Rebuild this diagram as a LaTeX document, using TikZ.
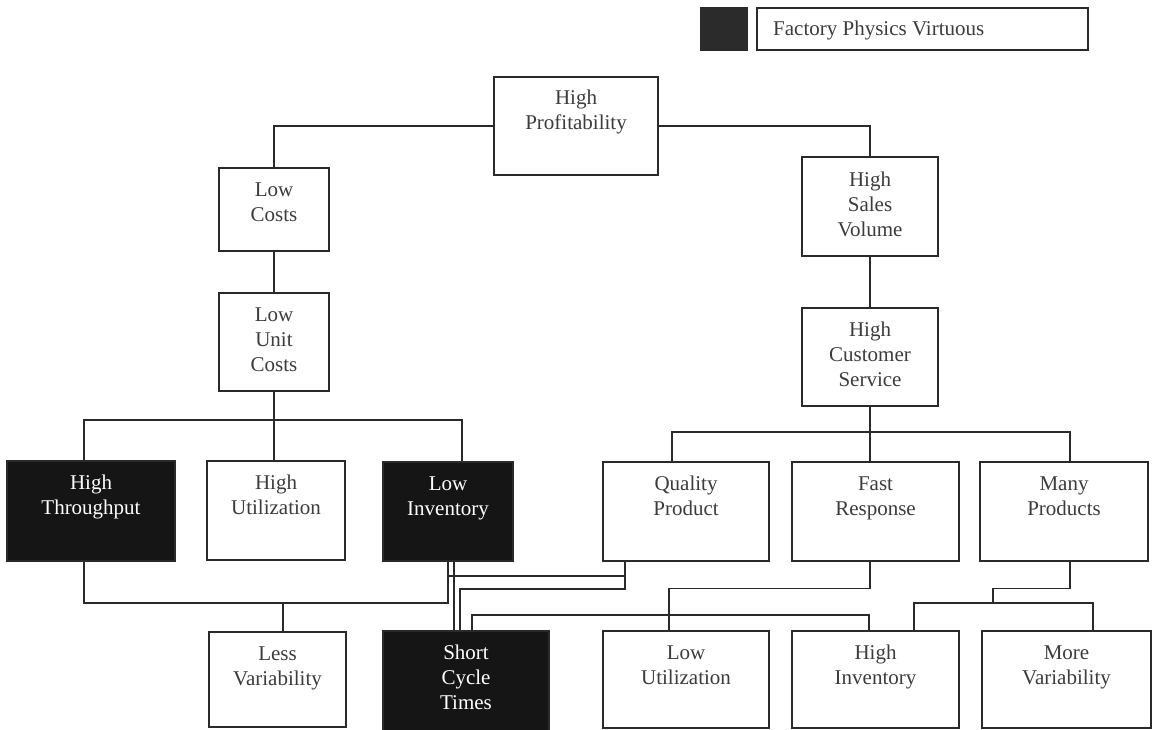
\documentclass[tikz,border=0pt]{standalone}
\usepackage{fontspec}
\setmainfont{Liberation Serif}
\definecolor{ink}{HTML}{2A2A2A}
\definecolor{txtgray}{HTML}{3C3C3C}
\definecolor{dark}{HTML}{151515}
\definecolor{legdark}{HTML}{2B2B2B}
\tikzset{
  base/.style={rectangle, inner sep=0pt, line width=1.3pt, draw=ink},
  wbox/.style={base, fill=white},
  kbox/.style={base, fill=dark},
  wtxt/.style={inner sep=0pt, align=center, text=txtgray, font=\fontsize{21}{25}\selectfont},
  ktxt/.style={inner sep=0pt, align=center, text=white, font=\fontsize{21}{25}\selectfont},
  conn/.style={line width=1.3pt, draw=ink}
}
% name, x1, y1, x2, y2, box style, text style, text, offset of last baseline
\newcommand\bx[9]{%
  \node[#6, minimum width={(#4-#2)*1pt}, minimum height={(#5-#3)*1pt}] (#1) at ({(#2+#4)/2},{(#3+#5)/2}) {};
  \node[#7, anchor=base] (#1t) at ([yshift=-#9pt]#1.north) {#8};
}
\begin{document}
\begin{tikzpicture}[x=1pt,y=-1pt]
\useasboundingbox[fill=white] (0,0) rectangle (1156,730);

% legend
\node[base, fill=legdark, minimum width=46pt, minimum height=42pt] (lgsq) at (724,29) {};
\node[wbox, minimum width=331pt, minimum height=42pt] (lgbox) at (922.5,29) {};
\node[wtxt, anchor=base west] (lgt) at (773,36) {Factory Physics Virtuous};

% boxes
\bx{hp}{494}{77}{658}{175}{wbox}{wtxt}{High\\Profitability}{53}
\bx{lc}{219}{168}{329}{251}{wbox}{wtxt}{Low\\Costs}{54}
\bx{luc}{219}{293}{329}{391}{wbox}{wtxt}{Low\\Unit\\Costs}{79}
\bx{hsv}{802}{157}{938}{256}{wbox}{wtxt}{High\\Sales\\Volume}{80}
\bx{hcs}{802}{308}{938}{406}{wbox}{wtxt}{High\\Customer\\Service}{79}
\bx{ht}{7}{461}{175}{561}{kbox}{ktxt}{High\\Throughput}{54}
\bx{hu}{207}{461}{345}{560}{wbox}{wtxt}{High\\Utilization}{54}
\bx{li}{383}{462}{513}{561}{kbox}{ktxt}{Low\\Inventory}{54}
\bx{qp}{603}{462}{769}{561}{wbox}{wtxt}{Quality\\Product}{54}
\bx{fr}{792}{462}{959}{561}{wbox}{wtxt}{Fast\\Response}{54}
\bx{mp}{980}{462}{1148}{561}{wbox}{wtxt}{Many\\Products}{54}
\bx{lv}{209}{632}{346}{727}{wbox}{wtxt}{Less\\Variability}{54}
\bx{sct}{383}{631}{549}{731}{kbox}{ktxt}{Short\\Cycle\\Times}{79}
\bx{lu}{603}{631}{769}{728}{wbox}{wtxt}{Low\\Utilization}{54}
\bx{hi}{792}{631}{959}{728}{wbox}{wtxt}{High\\Inventory}{54}
\bx{mv}{982}{631}{1151}{728}{wbox}{wtxt}{More\\Variability}{54}

% connectors: top levels
\draw[conn] (hp.west) -| (lc.north);
\draw[conn] (hp.east) -| (hsv.north);
\draw[conn] (lc.south) -- (luc.north);
\draw[conn] (hsv.south) -- (hcs.north);

% left bus
\coordinate (busL) at (274,420);
\draw[conn] (luc.south) -- (luc.south |- hu.north);
\draw[conn] ([xshift=-7pt]ht.north) |- (busL) -| ([xshift=14pt]li.north);

% right bus
\coordinate (busR) at (870,432);
\draw[conn] (hcs.south) -- (hcs.south |- fr.north);
\draw[conn] ([xshift=-14pt]qp.north) |- (busR) -| ([xshift=6pt]mp.north);

% throughput / low inventory -> less variability
\coordinate (lvbus) at (283,603);
\draw[conn] ([xshift=-7pt]ht.south) |- (lvbus) -| (li.south);
\draw[conn] ([xshift=5.5pt]lv.north) -- (lvbus);

% low inventory -> short cycle times
\draw[conn] ([xshift=6pt]li.south) -- ([xshift=6pt]li.south |- sct.north);

% quality product
\coordinate (q1) at (625,589);
\coordinate (q2) at (625,576);
\draw[conn] ([xshift=-61pt]qp.south) -- (q1) -| ([xshift=-6pt]sct.north);
\draw[conn] (q2) -- (q2 -| li.south);

% fast response -> low utilization
\draw[conn] ([xshift=-5.5pt]fr.south) -- ++(0,27) -| ([xshift=-17pt]lu.north);

% short cycle times -> high inventory
\draw[conn] ([xshift=6pt]sct.north) -- ++(0,-15.5) -| ([xshift=-6.5pt]hi.north);

% many products -> high inventory, more variability
\coordinate (m1) at (993,603);
\draw[conn] ([xshift=6pt]mp.south) -- ++(0,27) -| (m1);
\draw[conn] ([xshift=38.5pt]hi.north) |- (m1) -| ([xshift=26.5pt]mv.north);
\end{tikzpicture}
\end{document}
